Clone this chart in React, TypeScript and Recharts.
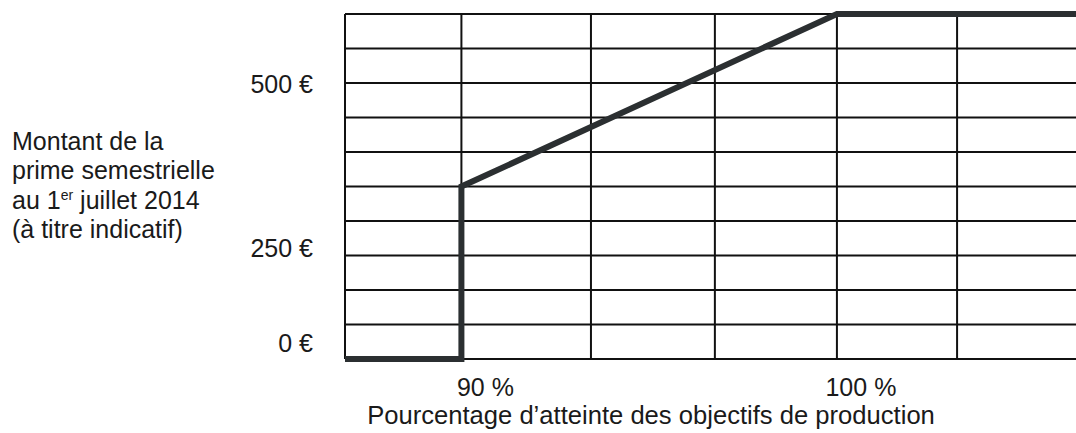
import { LineChart, Line, XAxis, YAxis, CartesianGrid, Label } from "recharts";

// x = pourcentage d'atteinte, y = rangées de la grille (0 en bas, 10 en haut)
const atteinte = [86.9, 90, 90, 100, 106.5];
const prime = [0, 0, 5, 10, 10];

const gridX = [86.9, 90, 93.45, 96.75, 100, 103.2, 106.5];
const gridY = [0, 1, 2, 3, 4, 5, 6, 7, 8, 9, 10];

const xTicks = [90, 100];
const xTickLabels = ["90 %", "100 %"];
const yTicks = [0.46, 3.22, 7.97];
const yTickLabels = ["0 €", "250 €", "500 €"];

const data = atteinte.map((x, i) => ({ x, y: prime[i] }));

const FONT = '"Liberation Sans", Arial, sans-serif';

function XTick({ x, y, payload }: any) {
  const i = xTicks.indexOf(payload.value);
  return (
    <text x={x + 24} y={y} dy={7} textAnchor="middle" fontSize={25} fill="#1a1a1a" fontFamily={FONT}>
      {xTickLabels[i]}
    </text>
  );
}

function YTick({ x, y, payload }: any) {
  const i = yTicks.indexOf(payload.value);
  return (
    <text x={x} y={y} dy={9} textAnchor="end" fontSize={25} fill="#1a1a1a" fontFamily={FONT}>
      {yTickLabels[i]}
    </text>
  );
}

export default function App() {
  return (
    <div
      style={{
        position: "absolute",
        left: 0,
        top: 0,
        width: 1076,
        height: 433,
        overflow: "hidden",
        background: "#fff",
        fontFamily: FONT,
      }}
    >
      <div
        style={{
          position: "absolute",
          left: 12,
          top: 127,
          fontSize: 25,
          lineHeight: "29.3px",
          color: "#1a1a1a",
          whiteSpace: "nowrap",
        }}
      >
        Montant de la
        <br />
        prime semestrielle
        <br />
        au 1<sup style={{ fontSize: 14, verticalAlign: "9px", lineHeight: 0 }}>er</sup> juillet 2014
        <br />
        (à titre indicatif)
      </div>
      <LineChart
        width={1100}
        height={433}
        data={data}
        margin={{ top: 14, right: 19, bottom: 0, left: 0 }}
      >
        <XAxis
          xAxisId="grid"
          dataKey="x"
          type="number"
          domain={[86.9, 106.5]}
          ticks={gridX}
          hide
        />
        <XAxis
          xAxisId="lab"
          dataKey="x"
          type="number"
          domain={[86.9, 106.5]}
          ticks={xTicks}
          tick={<XTick />}
          tickLine={false}
          axisLine={false}
          tickSize={0}
          tickMargin={0}
          height={74}
        >
          <Label
            content={() => (
              <text x={651} y={424} textAnchor="middle" fontSize={25.6} fill="#1a1a1a" fontFamily={FONT}>
                Pourcentage d’atteinte des objectifs de production
              </text>
            )}
          />
        </XAxis>
        <YAxis yAxisId="grid" dataKey="y" type="number" domain={[0, 10]} ticks={gridY} hide />
        <YAxis
          yAxisId="lab"
          dataKey="y"
          type="number"
          domain={[0, 10]}
          ticks={yTicks}
          tick={<YTick />}
          tickLine={false}
          axisLine={false}
          tickSize={0}
          tickMargin={-28}
          width={345}
        />
        <CartesianGrid xAxisId="grid" yAxisId="grid" stroke="#111" strokeWidth={2} />
        <Line
          xAxisId="grid"
          yAxisId="grid"
          dataKey="y"
          type="linear"
          stroke="#2b2f31"
          strokeWidth={6}
          dot={false}
          isAnimationActive={false}
        />
      </LineChart>
    </div>
  );
}
